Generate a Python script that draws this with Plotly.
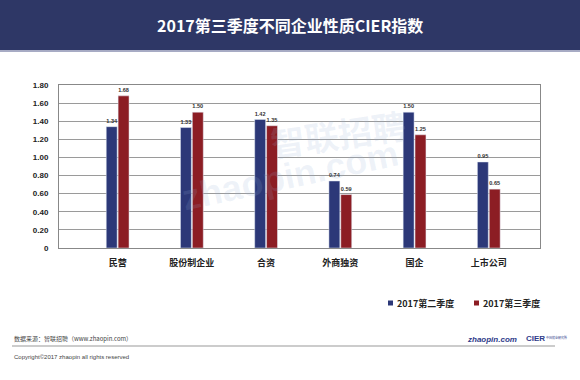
import plotly.graph_objects as go

categories = ["民营", "股份制企业", "合资", "外商独资", "国企", "上市公司"]
q2_values = [1.34, 1.33, 1.42, 0.74, 1.50, 0.95]
q3_values = [1.68, 1.50, 1.35, 0.59, 1.25, 0.65]
series_names = ["2017第二季度", "2017第三季度"]
y_ticks = [0, 0.2, 0.4, 0.6, 0.8, 1.0, 1.2, 1.4, 1.6, 1.8]
y_tick_labels = ["0", "0.20", "0.40", "0.60", "0.80", "1.00", "1.20", "1.40", "1.60", "1.80"]

FONT = "Liberation Sans, Noto Sans CJK SC, sans-serif"
CJK = "Noto Sans CJK SC, Liberation Sans, sans-serif"
BLUE = "#2c3878"
RED = "#8c1d24"
colors = [BLUE, RED]

# plot area in pixels: x 59..540, y 85..248
PL, PR, PT, PB = 59, 540, 85, 248
W, H = PR - PL, PB - PT

def px(x):
    return (x - PL) / W

def py(y):
    return (PB - y) / H

def note(text, x, y, size, color, family=CJK, xanchor="center", angle=0):
    fig.add_annotation(text=text, xref="paper", yref="paper", x=px(x), y=py(y),
                       xanchor=xanchor, yanchor="middle", showarrow=False, textangle=angle,
                       font=dict(size=size, color=color, family=family))

fig = go.Figure()
for name, vals, col in zip(series_names, [q2_values, q3_values], colors):
    fig.add_trace(go.Bar(
        x=categories, y=vals, name=name, marker_color=col,
        text=[f"<b>{v:.2f}</b>" for v in vals], textposition="outside",
        textfont=dict(size=7, color="#333333", family=FONT), cliponaxis=False,
    ))

fig.update_layout(
    width=580, height=380,
    margin=dict(l=PL, r=580 - PR, t=PT, b=380 - PB, autoexpand=False),
    paper_bgcolor="white", plot_bgcolor="white",
    barmode="group", bargap=0.68, bargroupgap=0.08,
    font=dict(family=FONT, size=9, color="#222222"),
    showlegend=False,
    xaxis=dict(range=[-0.79, 5.69], showgrid=False, showline=True, linecolor="#888888",
               linewidth=1, mirror=True, ticks="",
               tickvals=categories, ticktext=[f"<b>{c}</b>" for c in categories],
               tickfont=dict(size=9, color="#222222", family=CJK),
               ticklabelstandoff=6, fixedrange=True),
    yaxis=dict(range=[0, 1.8], tickvals=y_ticks, ticktext=[f"<b>{t}</b>" for t in y_tick_labels],
               showgrid=True, gridcolor="#9a9a9a", gridwidth=1, showline=True, linecolor="#888888",
               linewidth=1, mirror=True, zeroline=False, ticks="",
               tickfont=dict(size=8, color="#222222", family=FONT), ticklabelstandoff=8,
               fixedrange=True),
)

# Title banner
fig.add_shape(type="rect", xref="paper", yref="paper",
              x0=px(0), x1=px(580), y0=py(50), y1=py(0),
              line=dict(width=0), fillcolor="#2e3766", layer="above")
fig.add_shape(type="line", xref="paper", yref="paper",
              x0=px(0), x1=px(580), y0=py(51), y1=py(51),
              line=dict(color="#8a8fb0", width=1.5))
note("<b>2017第三季度不同企业性质CIER指数</b>", 290, 25, 16, "white")

# Watermark
note("<b>智联招聘</b>", 338, 133, 34, "rgba(150,175,215,0.16)", angle=-8)
note("<b>zhaopin.com</b>", 290, 175, 36, "rgba(150,175,215,0.16)", family="Liberation Sans", angle=-12)

# Custom legend built from series names
legend_x = [388, 474]
for lx, name, col in zip(legend_x, series_names, colors):
    fig.add_shape(type="rect", xref="paper", yref="paper",
                  x0=px(lx), x1=px(lx + 5), y0=py(305.5), y1=py(300.5),
                  line=dict(width=0), fillcolor=col)
    note(f"<b>{name}</b>", lx + 7, 303, 9, "#222222", xanchor="left")

# Footer
note("数据来源：智联招聘（www.zhaopin.com）", 12, 338, 6, "#444444", xanchor="left")
fig.add_shape(type="line", xref="paper", yref="paper",
              x0=px(12), x1=px(555), y0=py(346), y1=py(346),
              line=dict(color="#999999", width=1))
note("Copyright©2017 zhaopin all rights reserved", 12, 357, 6, "#444444",
     family="Liberation Sans", xanchor="left")
note("<b><i>zhaopin.com</i></b>", 519, 339, 8, "#2e3b8a", family="Liberation Sans", xanchor="right")
note("<b>CIER</b>", 524, 338, 8, "#2e3b8a", family="Liberation Sans", xanchor="left")
note("中国就业研究所", 544, 337, 3, "#2e3b8a", xanchor="left")

fig.write_html("out.html", config={"displayModeBar": False},
               post_script="document.body.style.margin='0';")
